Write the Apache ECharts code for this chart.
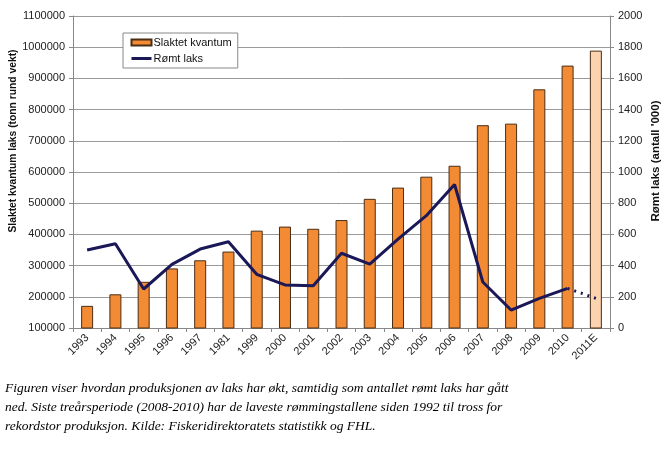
<!DOCTYPE html>
<html>
<head>
<meta charset="utf-8">
<script src="https://cdn.jsdelivr.net/npm/echarts@6/dist/echarts.min.js"></script>
<style>
html,body{margin:0;padding:0;background:#fff;}
#chart{width:664px;height:452px;}
</style>
</head>
<body>
<div id="chart"></div>
<script>
var categories = ['1993','1994','1995','1996','1997','1981','1999','2000','2001','2002','2003','2004','2005','2006','2007','2008','2009','2010','2011E'];
var slaktetKvantum = [171000, 208000, 248000, 291000, 317000, 345000, 412000, 425000, 418000, 446000, 514000, 550000, 585000, 620000, 750000, 755000, 865000, 941000, 989000];
var romtLaks = [500, 540, 250, 408, 506, 553, 344, 276, 271, 479, 410, 570, 720, 920, 295, 115, 190, 254, null];
var romtLaksEstimat = [null, null, null, null, null, null, null, null, null, null, null, null, null, null, null, null, null, 254, 190];
var estimateCategory = '2011E';

var leftName = 'Slaktet kvantum laks (tonn rund vekt)';
var rightName = "Rømt laks (antall '000)";
var caption = 'Figuren viser hvordan produksjonen av laks har økt, samtidig som antallet rømt laks har gått\nned. Siste treårsperiode (2008-2010) har de laveste rømmingstallene siden 1992 til tross for\nrekordstor produksjon. Kilde: Fiskeridirektoratets statistikk og FHL.';

var FONT = '"Liberation Sans", Arial, sans-serif';
var ORANGE = '#F38A34';
var LIGHT = '#FBD3AE';
var NAVY = '#1B1858';

var barData = slaktetKvantum.map(function (v, i) {
  if (categories[i] === estimateCategory) {
    return { value: v, itemStyle: { color: LIGHT } };
  }
  return v;
});

function plain(v) { return String(v); }

var chart = echarts.init(document.getElementById('chart'), null, { renderer: 'canvas' });
chart.setOption({
  animation: false,
  backgroundColor: '#fff',
  grid: { left: 73, right: 54, top: 16, bottom: 124, containLabel: false },
  legend: {
    data: [
      { name: 'Slaktet kvantum', icon: 'rect' },
      { name: 'Rømt laks', itemStyle: { opacity: 0 }, lineStyle: { width: 3, color: NAVY } }
    ],
    orient: 'vertical',
    left: 123,
    top: 33,
    itemWidth: 20,
    itemHeight: 6,
    itemGap: 5,
    padding: [4, 6, 4, 7],
    borderColor: '#888',
    borderWidth: 1,
    backgroundColor: '#fff',
    textStyle: { fontFamily: FONT, fontSize: 11, color: '#111', padding: [0, 0, 0, -3] }
  },
  xAxis: {
    type: 'category',
    data: categories,
    boundaryGap: true,
    axisLine: { lineStyle: { color: '#888', width: 1 } },
    axisTick: { show: true, alignWithLabel: false, length: 4, lineStyle: { color: '#888' } },
    axisLabel: { rotate: 45, interval: 0, fontFamily: FONT, fontSize: 11, color: '#222', margin: 8 }
  },
  yAxis: [
    {
      type: 'value',
      min: 100000,
      max: 1100000,
      interval: 100000,
      axisLine: { show: true, lineStyle: { color: '#888' } },
      axisTick: { show: true, length: 4, lineStyle: { color: '#888' } },
      axisLabel: { fontFamily: FONT, fontSize: 11, color: '#222', margin: 8, formatter: plain },
      splitLine: { show: true, lineStyle: { color: '#9a9a9a', width: 1 } }
    },
    {
      type: 'value',
      min: 0,
      max: 2000,
      interval: 200,
      position: 'right',
      axisLine: { show: true, lineStyle: { color: '#888' } },
      axisTick: { show: true, length: 4, lineStyle: { color: '#888' } },
      axisLabel: { fontFamily: FONT, fontSize: 11, color: '#222', margin: 8, formatter: plain },
      splitLine: { show: false }
    }
  ],
  series: [
    {
      name: 'Slaktet kvantum',
      type: 'bar',
      yAxisIndex: 0,
      data: barData,
      barWidth: 12,
      itemStyle: { color: ORANGE, borderColor: '#4a2e14', borderWidth: 1 }
    },
    {
      name: 'Rømt laks',
      type: 'line',
      yAxisIndex: 1,
      data: romtLaks,
      symbol: 'none',
      showSymbol: false,
      connectNulls: false,
      lineStyle: { color: NAVY, width: 3 },
      itemStyle: { color: NAVY }
    },
    {
      name: 'Rømt laks estimat',
      type: 'line',
      yAxisIndex: 1,
      data: romtLaksEstimat,
      symbol: 'none',
      showSymbol: false,
      lineStyle: { color: NAVY, width: 3, type: [2, 5] },
      itemStyle: { color: NAVY }
    }
  ],
  graphic: [
    {
      type: 'text',
      x: 13,
      y: 141,
      rotation: Math.PI / 2,
      style: { text: leftName, font: 'bold 10.3px ' + FONT, fill: '#111', textAlign: 'center', textVerticalAlign: 'middle' }
    },
    {
      type: 'text',
      x: 656,
      y: 161,
      rotation: Math.PI / 2,
      style: { text: rightName, font: 'bold 11.5px ' + FONT, fill: '#111', textAlign: 'center', textVerticalAlign: 'middle' }
    },
    {
      type: 'text',
      x: 5,
      y: 379,
      style: { text: caption, font: 'italic 13.5px "Liberation Serif", serif', fill: '#000', lineHeight: 19, textAlign: 'left', textVerticalAlign: 'top' }
    }
  ]
});
</script>
</body>
</html>
